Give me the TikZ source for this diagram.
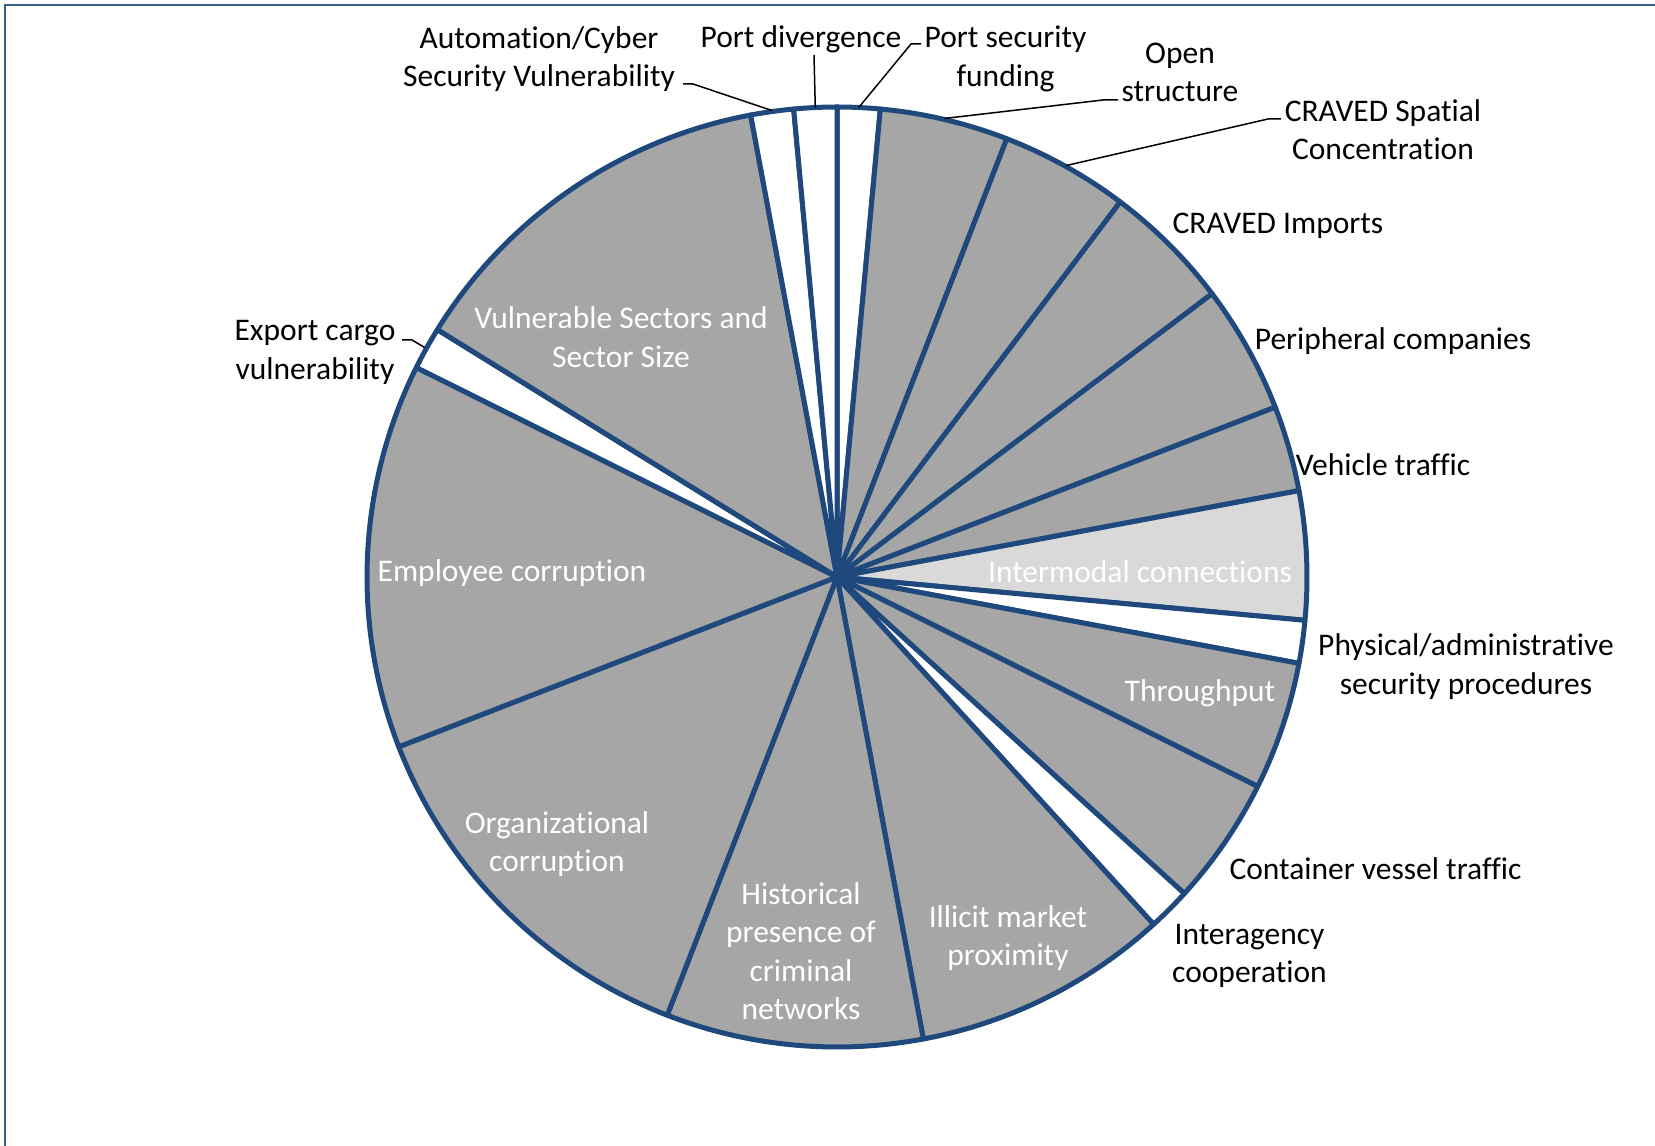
\documentclass[tikz,border=0pt]{standalone}
\usepackage{fontspec}
\setmainfont{Carlito}[Ligatures=NoCommon]
\definecolor{pieblue}{RGB}{31,73,125}
\definecolor{piegray}{RGB}{166,166,166}
\definecolor{pielight}{RGB}{217,217,217}
\definecolor{framecol}{RGB}{56,93,138}
\tikzset{
  slice/.style={draw=pieblue, line width=2.5pt, line join=round},
  dark/.style={slice, fill=piegray},
  pale/.style={slice, fill=pielight},
  blank/.style={slice, fill=white},
  lab/.style={font=\fontsize{15.75}{19.2}\selectfont, align=center, inner sep=0pt},
  inlab/.style={lab, text=white},
  leader/.style={line width=0.75pt},
  framebox/.style={draw=framecol, line width=1.2pt}
}
\begin{document}
\begin{tikzpicture}[x=0.5pt,y=0.5pt]
\useasboundingbox (0,0) rectangle (1655,1146);
\draw[framebox] (5,0) -- (5,1141) -- (1655,1141);

% pie, clockwise from the top
\begin{scope}[shift={(837,569)}]
  \filldraw[blank] (0,0) -- (90:470) arc[start angle=90, end angle=84.71, radius=470] -- cycle;
  \filldraw[dark] (0,0) -- (84.71:470) arc[start angle=84.71, end angle=68.82, radius=470] -- cycle;
  \filldraw[dark] (0,0) -- (68.82:470) arc[start angle=68.82, end angle=52.94, radius=470] -- cycle;
  \filldraw[dark] (0,0) -- (52.94:470) arc[start angle=52.94, end angle=37.06, radius=470] -- cycle;
  \filldraw[dark] (0,0) -- (37.06:470) arc[start angle=37.06, end angle=21.18, radius=470] -- cycle;
  \filldraw[dark] (0,0) -- (21.18:470) arc[start angle=21.18, end angle=10.59, radius=470] -- cycle;
  \filldraw[pale] (0,0) -- (10.59:470) arc[start angle=10.59, end angle=-5.29, radius=470] -- cycle;
  \filldraw[blank] (0,0) -- (-5.29:470) arc[start angle=-5.29, end angle=-10.59, radius=470] -- cycle;
  \filldraw[dark] (0,0) -- (-10.59:470) arc[start angle=-10.59, end angle=-26.47, radius=470] -- cycle;
  \filldraw[dark] (0,0) -- (-26.47:470) arc[start angle=-26.47, end angle=-42.35, radius=470] -- cycle;
  \filldraw[blank] (0,0) -- (-42.35:470) arc[start angle=-42.35, end angle=-47.65, radius=470] -- cycle;
  \filldraw[dark] (0,0) -- (-47.65:470) arc[start angle=-47.65, end angle=-79.41, radius=470] -- cycle;
  \filldraw[dark] (0,0) -- (-79.41:470) arc[start angle=-79.41, end angle=-111.18, radius=470] -- cycle;
  \filldraw[dark] (0,0) -- (-111.18:470) arc[start angle=-111.18, end angle=-158.82, radius=470] -- cycle;
  \filldraw[dark] (0,0) -- (-158.82:470) arc[start angle=-158.82, end angle=-206.47, radius=470] -- cycle;
  \filldraw[blank] (0,0) -- (-206.47:470) arc[start angle=-206.47, end angle=-211.76, radius=470] -- cycle;
  \filldraw[dark] (0,0) -- (-211.76:470) arc[start angle=-211.76, end angle=-259.41, radius=470] -- cycle;
  \filldraw[blank] (0,0) -- (-259.41:470) arc[start angle=-259.41, end angle=-264.71, radius=470] -- cycle;
  \filldraw[blank] (0,0) -- (-264.71:470) arc[start angle=-264.71, end angle=-270, radius=470] -- cycle;
  % rim points for the leaders
  \coordinate (rAut) at (97.94:471);
  \coordinate (rPdiv) at (92.65:470);
  \coordinate (rPsec) at (87.35:470);
  \coordinate (rOpen) at (76.8:471);
  \coordinate (rSpat) at (60.88:471);
  \coordinate (rExpo) at (150.9:472);
\end{scope}

% outside labels
\node[lab] (aut) at (539,1087) {Automation/Cyber\\Security Vulnerability};
\node[lab] (pdiv) at (801,1107) {Port divergence};
\node[lab] (psec) at (1005.5,1087) {Port security\\funding};
\node[lab] (open) at (1180,1073.5) {Open\\structure};
\node[lab] (spat) at (1383,1016.5) {CRAVED Spatial\\Concentration};
\node[lab] (imp) at (1278,920.5) {CRAVED Imports};
\node[lab] (peri) at (1393,805) {Peripheral companies};
\node[lab] (veh) at (1383,681) {Vehicle traffic};
\node[lab] (phys) at (1466,479.5) {Physical/administrative\\security procedures};
\node[lab] (cont) at (1375.5,277) {Container vessel traffic};
\node[lab] (inter) at (1249.5,190) {Interagency\\cooperation};
\node[lab] (expo) at (315,793.5) {Export cargo\\vulnerability};

% labels inside the slices
\node[inlab] (vuln) at (621,809) {Vulnerable Sectors and\\Sector Size};
\node[inlab] (empl) at (512,573) {Employee corruption};
\node[inlab] (org) at (557,302) {Organizational\\corruption};
\node[inlab] (hist) at (801,195) {Historical\\presence of\\criminal\\networks};
\node[inlab] (illi) at (1008,208) {Illicit market\\proximity};
\node[inlab] (thru) at (1200,453) {Throughput};
\node[inlab] (inmo) at (1140,574) {Intermodal connections};

% leaders
\coordinate (autL) at (683,1062);
\coordinate (pdivL) at (814,1091);
\coordinate (psecL) at (921,1102);
\coordinate (openL) at (1118,1046);
\coordinate (spatL) at (1281,1027);
\coordinate (expoL) at (402,806);
\draw[leader] (autL) -- ++(10,0) -- (rAut);
\draw[leader] (pdivL) -- (rPdiv);
\draw[leader] (psecL) -- ++(-10,0) -- (rPsec);
\draw[leader] (openL) -- ++(-15,0) -- (rOpen);
\draw[leader] (spatL) -- ++(-13,0) -- (rSpat);
\draw[leader] (expoL) -- ++(10,0) -- (rExpo);
\end{tikzpicture}
\end{document}
